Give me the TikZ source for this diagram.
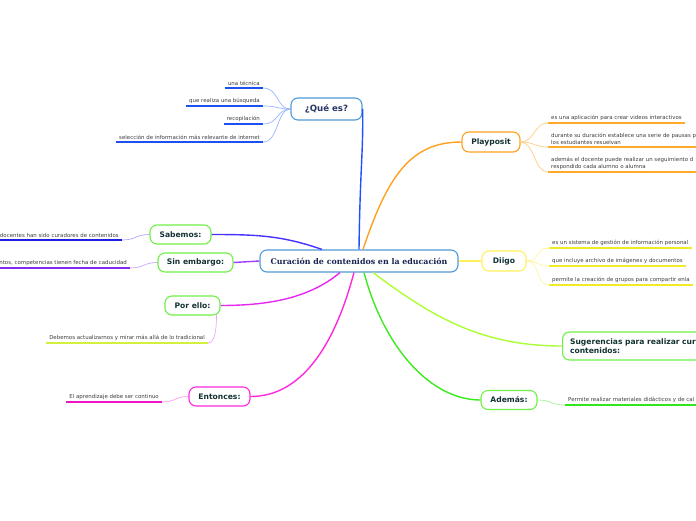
\documentclass[tikz,border=0pt]{standalone}
\usepackage{fontspec}
\setmainfont{DejaVu Sans}
\newfontfamily\titlefont{DejaVu Serif}
\usetikzlibrary{positioning}
\definecolor{rootLine}{RGB}{80,155,215}
\definecolor{rootText}{RGB}{25,35,80}
\definecolor{topicText}{RGB}{20,50,50}
\definecolor{qText}{RGB}{40,55,100}
\definecolor{leafText}{RGB}{60,60,60}
\definecolor{greenBox}{RGB}{110,240,70}
\definecolor{qLine}{RGB}{30,80,255}
\definecolor{qTwig}{RGB}{150,180,255}
\definecolor{qUnder}{RGB}{30,80,240}
\definecolor{ppLine}{RGB}{255,160,30}
\definecolor{ppTwig}{RGB}{255,205,130}
\definecolor{ppUnder}{RGB}{255,170,40}
\definecolor{dgLine}{RGB}{255,240,90}
\definecolor{dgTwig}{RGB}{255,245,160}
\definecolor{dgUnder}{RGB}{240,235,40}
\definecolor{sgLine}{RGB}{170,255,50}
\definecolor{adLine}{RGB}{60,235,30}
\definecolor{adTwig}{RGB}{160,245,150}
\definecolor{adUnder}{RGB}{50,230,30}
\definecolor{sbLine}{RGB}{70,50,255}
\definecolor{sbTwig}{RGB}{175,165,255}
\definecolor{sbUnder}{RGB}{30,30,230}
\definecolor{seLine}{RGB}{160,60,255}
\definecolor{seTwig}{RGB}{205,165,255}
\definecolor{seUnder}{RGB}{130,40,240}
\definecolor{peLine}{RGB}{230,40,240}
\definecolor{peTwig}{RGB}{240,165,255}
\definecolor{peUnder}{RGB}{210,240,60}
\definecolor{enLine}{RGB}{255,40,220}
\definecolor{enTwig}{RGB}{255,155,235}
\definecolor{enUnder}{RGB}{240,20,200}

\begin{document}
\begin{tikzpicture}[x=1pt,y=-1pt,
    root/.style={draw=rootLine,line width=1.1pt,rounded corners=7pt,fill=white,
                 minimum width=198pt,minimum height=22pt,text=rootText,
                 font=\titlefont\bfseries\fontsize{7.9}{9}\selectfont},
    topic/.style={draw=#1,line width=1.1pt,rounded corners=7pt,fill=white,
                  minimum height=19pt,text=topicText,
                  font=\bfseries\fontsize{7.6}{9}\selectfont},
    leaf/.style={font=\fontsize{5.45}{7}\selectfont,text=leafText,
                 inner xsep=3pt,inner ysep=2pt},
    uline/.style={line width=1.5pt,#1},
    link/.style={line width=1.4pt,#1},
    twig/.style={line width=0.7pt,#1}]

    \useasboundingbox (0,0) rectangle (696,520);

    % main topics
    \node[root] (root) at (359,261) {Curación de contenidos en la educación};
    \node[topic=rootLine,minimum width=71pt,minimum height=22pt,text=qText,
          font=\bfseries\fontsize{8.6}{10}\selectfont] (q) at (326.5,109) {¿Qué es?};
    \node[topic=ppLine,minimum width=58pt,minimum height=20pt] (pp) at (491,142) {Playposit};
    \node[topic=dgLine,minimum width=44pt,minimum height=20pt] (dg) at (504,261) {Diigo};
    \node[topic=greenBox,minimum width=180pt,minimum height=28pt,anchor=west,
          align=left,text width=165pt] (sg) at (562,346) {Sugerencias para realizar cura\\contenidos:};
    \node[topic=greenBox,minimum width=56pt] (ad) at (509,400) {Además:};
    \node[topic=greenBox,minimum width=61pt] (sb) at (180.5,234.5) {Sabemos:};
    \node[topic=greenBox,minimum width=75pt] (se) at (195.5,262.5) {Sin embargo:};
    \node[topic=greenBox,minimum width=55pt] (pe) at (192.5,305.5) {Por ello:};
    \node[topic=enLine,minimum width=61pt] (en) at (219.5,396.5) {Entonces:};

    % links from the root
    \draw[link=qLine] (root.north) .. controls +(1,-80) and +(1,40) .. (q.east);
    \draw[link=ppLine] ([xshift=4pt]root.north) .. controls +(25,-75) and +(-50,0) .. (pp.west);
    \draw[link=sbLine] ([xshift=-37pt]root.north) .. controls +(-40,-14) and +(45,0) .. (sb.east);
    \draw[link=seLine] (root.west) -- (se.east);
    \draw[link=dgLine] (root.east) -- (dg.west);
    \draw[link=peLine] ([xshift=-19pt]root.south) .. controls +(-30,25) and +(50,0) .. (pe.east);
    \draw[link=enLine] ([xshift=-5pt]root.south) .. controls +(-20,75) and +(50,0) .. (en.east);
    \draw[link=adLine] ([xshift=5pt]root.south) .. controls +(20,75) and +(-50,0) .. (ad.west);
    \draw[link=sgLine] ([xshift=14pt]root.south) .. controls +(60,45) and +(-80,0) .. (sg.west);

    % ¿Qué es?
    \node[leaf,anchor=south east] (q1) at (263,88) {una técnica};
    \node[leaf,anchor=south east] (q2) at (263,106) {que realiza una búsqueda};
    \node[leaf,anchor=south east] (q3) at (263,124) {recopilación};
    \node[leaf,anchor=south east] (q4) at (263,142) {selección de información más relevante de internet};
    \foreach \n in {q1,q2,q3,q4} {
      \draw[uline=qUnder] (\n.south west) -- (\n.south east);
      \draw[twig=qTwig] (\n.south east) .. controls +(16,0) and +(-14,0) .. (q.west);
    }

    % Playposit
    \node[leaf,anchor=south west] (p1) at (548,123) {es una aplicación para crear videos interactivos};
    \node[leaf,anchor=south west,align=left] (p2) at (548,147) {durante su duración establece una serie de pausas p\\los estudiantes resuelvan};
    \node[leaf,anchor=south west,align=left] (p3) at (548,172) {además el docente puede realizar un seguimiento d\\respondido cada alumno o alumna};
    \foreach \n in {p1,p2,p3} {
      \draw[uline=ppUnder] (\n.south west) -- (\n.south east);
      \draw[twig=ppTwig] (pp.east) .. controls +(14,0) and +(-14,0) .. (\n.south west);
    }

    % Diigo
    \node[leaf,anchor=south west] (d1) at (549,248) {es un sistema de gestión de información personal};
    \node[leaf,anchor=south west] (d2) at (549,266) {que incluye archivo de imágenes y documentos};
    \node[leaf,anchor=south west] (d3) at (549,285) {permite la creación de grupos para compartir enla};
    \foreach \n in {d1,d2,d3} {
      \draw[uline=dgUnder] (\n.south west) -- (\n.south east);
      \draw[twig=dgTwig] (dg.east) .. controls +(14,0) and +(-14,0) .. (\n.south west);
    }

    % Además
    \node[leaf,anchor=south west] (a1) at (565,405) {Permite realizar materiales didácticos y de cal};
    \draw[uline=adUnder] (a1.south west) -- (a1.south east);
    \draw[twig=adTwig] (ad.east) .. controls +(14,0) and +(-14,0) .. (a1.south west);

    % left side
    \node[leaf,anchor=south east] (s1) at (122,240) {docentes han sido curadores de contenidos};
    \draw[uline=sbUnder] (s1.south west) -- (s1.south east);
    \draw[twig=sbTwig] (s1.south east) .. controls +(14,0) and +(-14,0) .. (sb.west);

    \node[leaf,anchor=south east] (e1) at (130,268) {ntos, competencias tienen fecha de caducidad};
    \draw[uline=seUnder] (e1.south west) -- (e1.south east);
    \draw[twig=seTwig] (e1.south east) .. controls +(14,0) and +(-14,0) .. (se.west);

    \node[leaf,anchor=south east] (r1) at (208,343) {Debemos actualizarnos y mirar más allá de lo tradicional};
    \draw[uline=peUnder] (r1.south west) -- (r1.south east);
    \draw[twig=peTwig] (r1.south east) .. controls +(7,0) and +(0,14) .. ([xshift=-4pt,yshift=1pt]pe.south east);

    \node[leaf,anchor=south east] (n1) at (162,402) {El aprendizaje debe ser continuo};
    \draw[uline=enUnder] (n1.south west) -- (n1.south east);
    \draw[twig=enTwig] (n1.south east) .. controls +(14,0) and +(-14,0) .. (en.west);
\end{tikzpicture}
\end{document}
